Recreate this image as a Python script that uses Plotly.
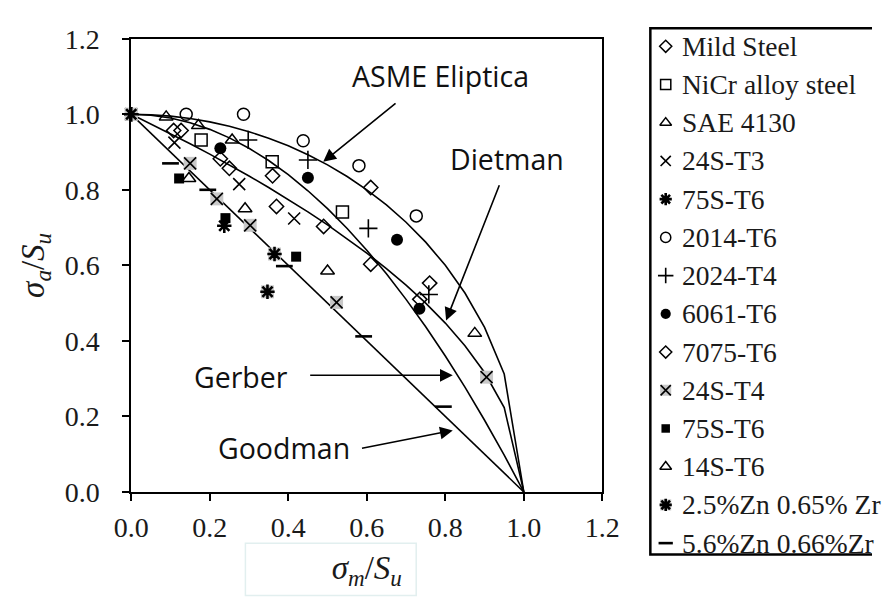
import numpy as np
import plotly.graph_objects as go

# ---------------- criterion curves (sampled at 0.05 steps) ----------------
x_curve = np.round(np.arange(0, 1.0001, 0.05), 2)
curve_goodman = 1 - x_curve
curve_gerber = 1 - x_curve ** 2
curve_dietmann = np.sqrt(np.clip(1 - x_curve, 0, None))
curve_asme = np.sqrt(np.clip(1 - x_curve ** 2, 0, None))

# ---------------- test data (sigma_m/Su, sigma_a/Su) ----------------
mild_steel_x = [0.108, 0.127, 0.227, 0.25, 0.36, 0.37]
mild_steel_y = [0.957, 0.957, 0.882, 0.857, 0.837, 0.756]
nicr_x = [0.178, 0.359, 0.538]
nicr_y = [0.932, 0.874, 0.741]
sae4130_x = [0.089, 0.171, 0.257]
sae4130_y = [0.993, 0.97, 0.932]
t24s_t3_x = [0.0, 0.11, 0.275, 0.415]
t24s_t3_y = [1.0, 0.925, 0.815, 0.724]
t75s_t6a_x = [0.0, 0.237]
t75s_t6a_y = [1.0, 0.705]
a2014_t6_x = [0.14, 0.286, 0.438, 0.58, 0.726]
a2014_t6_y = [1.0, 1.0, 0.93, 0.864, 0.731]
a2024_t4_x = [0.298, 0.45, 0.604, 0.758]
a2024_t4_y = [0.932, 0.879, 0.698, 0.523]
a6061_t6_x = [0.227, 0.45, 0.677, 0.734]
a6061_t6_y = [0.91, 0.832, 0.668, 0.485]
a7075_t6_x = [0.49, 0.61, 0.61, 0.76, 0.735]
a7075_t6_y = [0.703, 0.806, 0.603, 0.553, 0.51]
t24s_t4_x = [0.0, 0.15, 0.218, 0.303, 0.523, 0.905]
t24s_t4_y = [1.0, 0.87, 0.776, 0.706, 0.502, 0.304]
t75s_t6b_x = [0.122, 0.24, 0.42]
t75s_t6b_y = [0.83, 0.725, 0.623]
t14s_t6_x = [0.147, 0.29, 0.5, 0.875]
t14s_t6_y = [0.83, 0.75, 0.585, 0.42]
zn25_x = [0.0, 0.365, 0.347]
zn25_y = [1.0, 0.63, 0.53]
zn56_x = [0.1, 0.195, 0.39, 0.592, 0.795]
zn56_y = [0.87, 0.80, 0.598, 0.412, 0.226]

legend_names = ["Mild Steel", "NiCr alloy steel", "SAE 4130", "24S-T3", "75S-T6",
                "2014-T6", "2024-T4", "6061-T6", "7075-T6", "24S-T4", "75S-T6",
                "14S-T6", "2.5%Zn 0.65% Zr", "5.6%Zn 0.66%Zr"]

x_ticks = [0.0, 0.2, 0.4, 0.6, 0.8, 1.0, 1.2]
y_ticks = [0.0, 0.2, 0.4, 0.6, 0.8, 1.0, 1.2]

# symbol: (symbol, size, line width, gray backing)
series = [
    (mild_steel_x, mild_steel_y, ("diamond-open", 11, 1.5, False)),
    (nicr_x, nicr_y, ("square-open", 12, 1.5, False)),
    (sae4130_x, sae4130_y, ("triangle-up-open", 12, 1.5, False)),
    (t24s_t3_x, t24s_t3_y, ("x-thin-open", 12, 1.6, False)),
    (t75s_t6a_x, t75s_t6a_y, ("asterisk-open", 12, 2.6, False)),
    (a2014_t6_x, a2014_t6_y, ("circle-open", 12, 1.5, False)),
    (a2024_t4_x, a2024_t4_y, ("cross-thin-open", 13, 1.6, False)),
    (a6061_t6_x, a6061_t6_y, ("circle", 12, 0, False)),
    (a7075_t6_x, a7075_t6_y, ("diamond-open", 11, 1.5, False)),
    (t24s_t4_x, t24s_t4_y, ("x-thin-open", 12, 1.6, True)),
    (t75s_t6b_x, t75s_t6b_y, ("square", 10, 0, False)),
    (t14s_t6_x, t14s_t6_y, ("triangle-up-open", 12, 1.5, False)),
    (zn25_x, zn25_y, ("asterisk-open", 12, 2.6, True)),
    (zn56_x, zn56_y, ("line-ew-open", 12, 2.6, False)),
]

fig = go.Figure()

# curves
for yc in (curve_goodman, curve_gerber, curve_dietmann, curve_asme):
    fig.add_trace(go.Scatter(x=x_curve, y=yc, mode="lines",
                             line=dict(color="black", width=1.6),
                             hoverinfo="skip", showlegend=False))

GRAY = "#c8c8c8"

def add_points(xs, ys, spec, xaxis="x", yaxis="y", scale=1.0):
    sym, size, lw, gray = spec
    if gray:
        fig.add_trace(go.Scatter(x=xs, y=ys, mode="markers", xaxis=xaxis, yaxis=yaxis,
                                 marker=dict(symbol="square", size=(size + 1) * scale,
                                             color=GRAY, line=dict(width=0)),
                                 showlegend=False, hoverinfo="skip", cliponaxis=False))
    fig.add_trace(go.Scatter(x=xs, y=ys, mode="markers", xaxis=xaxis, yaxis=yaxis,
                             marker=dict(symbol=sym, size=size * scale, color="black",
                                         line=dict(color="black", width=lw)),
                             showlegend=False, cliponaxis=False))

for xs, ys, spec in series:
    add_points(xs, ys, spec)

# manual legend (pixel coordinate axis on the right)
leg_top, leg_step = 33.0, 40.3
for i, (name, (_, _, spec)) in enumerate(zip(legend_names, series)):
    yy = leg_top + i * leg_step
    add_points([675], [yy], spec, xaxis="x2", yaxis="y2", scale=0.85)
    fig.add_annotation(x=690, y=yy, xref="x2", yref="y2", text=name, showarrow=False,
                       xanchor="left", yanchor="middle",
                       font=dict(family="Liberation Serif", size=27.5, color="#1a1a1a"))

fig.add_shape(type="rect", xref="x2", yref="y2", x0=659, x1=905, y0=14, y1=569,
              line=dict(color="black", width=2.5), fillcolor="rgba(0,0,0,0)")

# faint box around x-axis title (artifact in the original)
fig.add_shape(type="rect", xref="paper", yref="paper", x0=237 / 890, x1=415 / 890,
              y0=-0.02, y1=1 - 557 / 600, line=dict(color="#e2efef", width=1.5))

# labels and arrows
label_font = dict(family="Open Sans", size=28.5, color="#111111")
for txt, lx, ly in [("ASME Eliptica", 0.789, 1.102), ("Dietman", 0.958, 0.882),
                    ("Gerber", 0.279, 0.304), ("Goodman", 0.389, 0.116)]:
    fig.add_annotation(x=lx, y=ly, xref="x", yref="y", text=txt, showarrow=False,
                       font=label_font, xanchor="center", yanchor="middle")

for (hx, hy, tx, ty) in [(0.489, 0.874, 0.677, 1.032),
                         (0.802, 0.454, 0.939, 0.816),
                         (0.819, 0.309, 0.452, 0.309),
                         (0.819, 0.163, 0.584, 0.115)]:
    fig.add_annotation(x=hx, y=hy, ax=tx, ay=ty, xref="x", yref="y", axref="x", ayref="y",
                       text="", showarrow=True, arrowhead=2, arrowsize=1.6,
                       arrowwidth=1.6, arrowcolor="black", standoff=0)

tick_font = dict(family="Liberation Serif", size=28, color="#1a1a1a")
axis_common = dict(range=[0, 1.2], tickvals=x_ticks, tickformat=".1f", ticks="outside",
                   ticklen=7, tickwidth=1.6, tickcolor="black", showline=True,
                   linewidth=2, linecolor="black", mirror=True, showgrid=False,
                   zeroline=False, tickfont=tick_font, fixedrange=True)

fig.update_layout(
    width=890, height=600, autosize=False,
    margin=dict(l=0, r=0, t=0, b=0),
    paper_bgcolor="white", plot_bgcolor="rgba(0,0,0,0)",
    showlegend=False,
    xaxis=dict(domain=[118 / 890, 609 / 890], anchor="y",
               title=dict(text="<i>σ<sub>m</sub></i>/<i>S<sub>u</sub></i>",
                          font=dict(family="Liberation Serif", size=33, color="#1a1a1a"),
                          standoff=14),
               ticklabelstandoff=2,
               **axis_common),
    yaxis=dict(domain=[97 / 600, 575 / 600], anchor="x",
               title=dict(text="<i>σ<sub>a</sub></i>/<i>S<sub>u</sub></i>",
                          font=dict(family="Liberation Serif", size=33, color="#1a1a1a"),
                          standoff=10),
               ticklabelstandoff=17,
               **axis_common),
    xaxis2=dict(domain=[0.7, 1.0], range=[623, 890], visible=False, anchor="y2",
                fixedrange=True),
    yaxis2=dict(domain=[0, 1], range=[600, 0], visible=False, anchor="x2",
                fixedrange=True),
)

fig.write_html("out.html")
